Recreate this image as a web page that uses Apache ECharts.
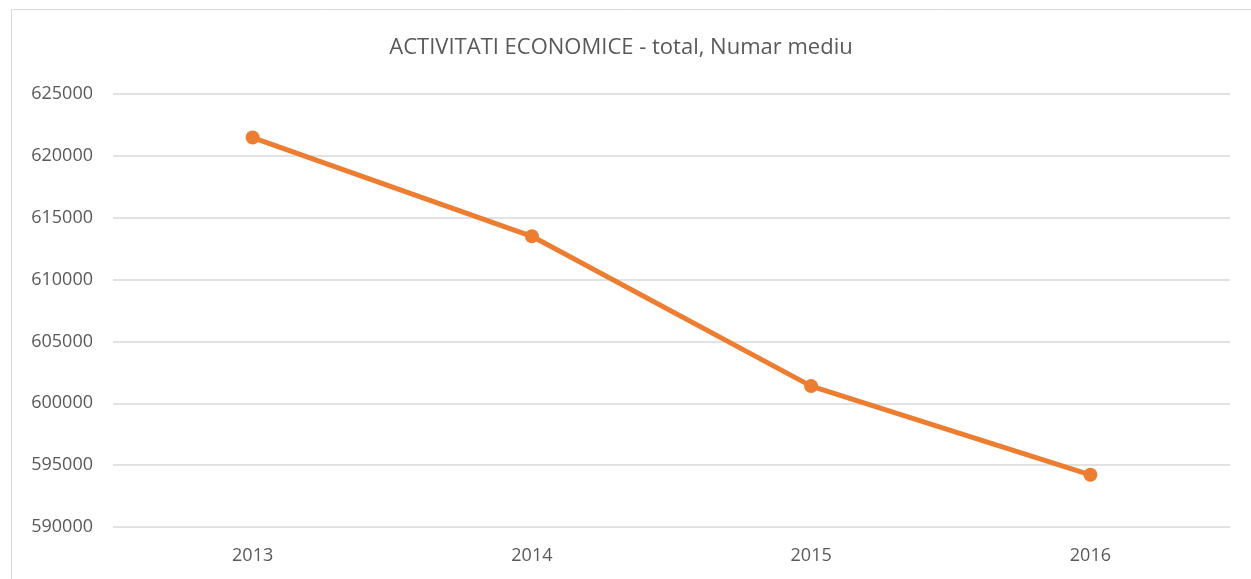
<!DOCTYPE html>
<html>
<head>
<meta charset="utf-8">
<script src="https://cdn.jsdelivr.net/npm/echarts@6/dist/echarts.min.js"></script>
<style>html,body{margin:0;padding:0;background:#fff;}#c{width:1251px;height:579px;}</style>
</head>
<body>
<div id="c"></div>
<script>
var titleText = "ACTIVITATI ECONOMICE - total, Numar mediu";
var categories = ["2013", "2014", "2015", "2016"];
var values = [621480, 613500, 601390, 594220];
var yMin = 590000, yMax = 625000, yStep = 5000;

var chart = echarts.init(document.getElementById('c'));
var font = "'Open Sans', 'Liberation Sans', sans-serif";
chart.setOption({
  animation: false,
  backgroundColor: '#ffffff',
  graphic: [{
    type: 'rect', shape: {x: 11.5, y: 9.5, width: 1400, height: 700},
    style: {fill: 'none', stroke: '#d9d9d9', lineWidth: 1}, silent: true
  }],
  title: {
    text: titleText, left: 616, top: 32, textAlign: 'center',
    textStyle: {color: '#595959', fontFamily: font, fontSize: 22, fontWeight: 'normal'}
  },
  grid: {left: 113, right: 21, top: 94, bottom: 52},
  xAxis: {
    type: 'category', data: categories, boundaryGap: true,
    axisLine: {show: false}, axisTick: {show: false},
    axisLabel: {color: '#595959', fontFamily: font, fontSize: 18, margin: 20}
  },
  yAxis: {
    type: 'value', min: yMin, max: yMax, interval: yStep,
    axisLine: {show: false}, axisTick: {show: false},
    splitLine: {lineStyle: {color: '#d9d9d9', width: 1.5}},
    axisLabel: {color: '#595959', fontFamily: font, fontSize: 18, margin: 20,
      formatter: function (v) { return String(v); }}
  },
  series: [{
    type: 'line', data: values,
    lineStyle: {color: '#ED7D31', width: 5},
    itemStyle: {color: '#ED7D31'},
    symbol: 'circle', symbolSize: 14
  }]
});
</script>
</body>
</html>
